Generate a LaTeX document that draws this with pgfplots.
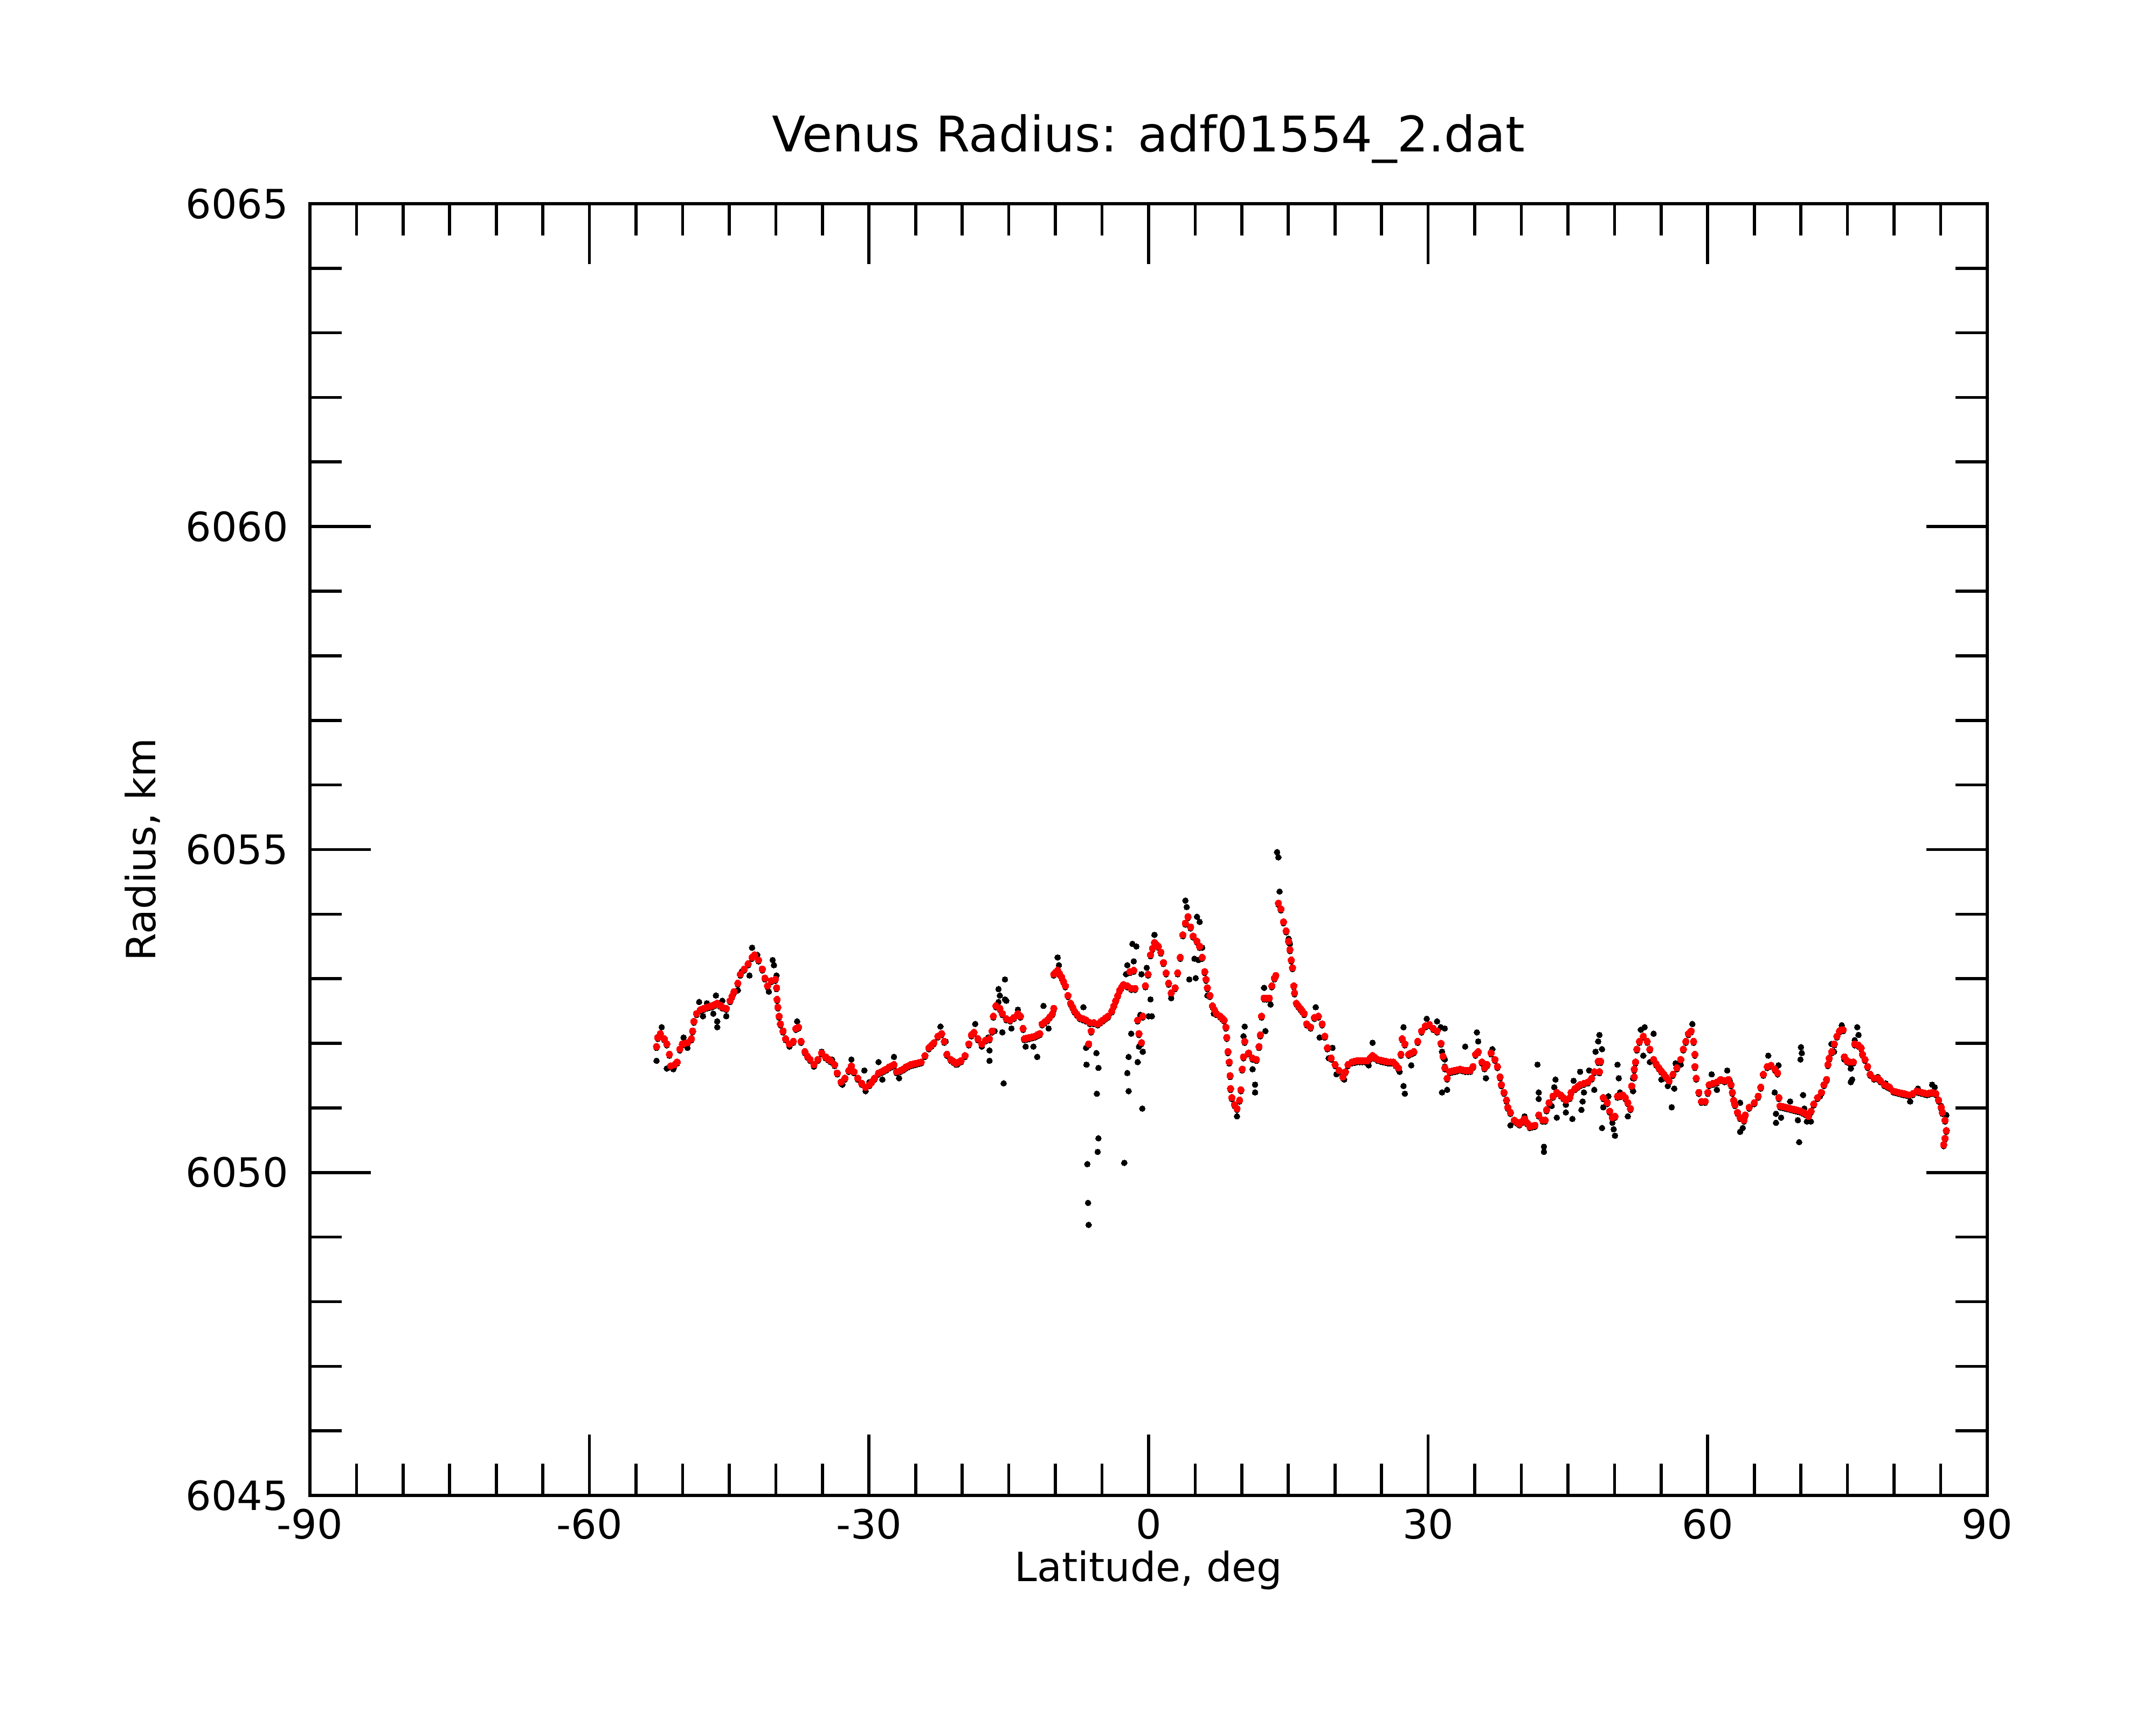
\documentclass[border=0pt]{standalone}
\usepackage{fontspec}
\setmainfont{DejaVu Sans}
\usepackage{pgfplots}
\usepackage{pgfplotstable}
\pgfplotsset{compat=1.18}

\pgfplotstableread{
lat r
-52.80 6051.95
-52.67 6052.09
-52.39 6052.15
-51.97 6052.07
-51.70 6051.99
-51.42 6051.83
-51.28 6051.65
-50.87 6051.67
-50.59 6051.71
-50.31 6051.91
-50.03 6051.99
-49.75 6052.00
-49.48 6052.01
-49.06 6052.07
-48.93 6052.19
-48.79 6052.34
-48.51 6052.46
-48.09 6052.52
-47.75 6052.54
-47.40 6052.56
-47.12 6052.57
-46.85 6052.58
-46.57 6052.60
-46.29 6052.62
-46.00 6052.59
-45.74 6052.56
-45.32 6052.54
-44.91 6052.66
-44.70 6052.73
-44.49 6052.80
-44.08 6052.93
-43.80 6053.07
-43.39 6053.15
-42.97 6053.23
-42.55 6053.33
-42.28 6053.37
-41.86 6053.29
-41.45 6053.15
-41.17 6053.01
-40.89 6052.89
-40.48 6052.97
-40.06 6052.99
-39.92 6052.86
-39.87 6052.68
-39.78 6052.56
-39.65 6052.42
-39.51 6052.30
-39.23 6052.19
-38.95 6052.07
-38.54 6051.99
-38.12 6052.03
-37.85 6052.23
-37.57 6052.25
-37.29 6052.03
-36.88 6051.87
-36.60 6051.80
-36.32 6051.75
-35.91 6051.67
-35.49 6051.75
-35.08 6051.85
-34.66 6051.79
-34.40 6051.76
-34.11 6051.73
-33.69 6051.67
-33.41 6051.54
-33.00 6051.40
-32.58 6051.46
-32.17 6051.58
-31.89 6051.65
-31.61 6051.56
-31.20 6051.46
-30.78 6051.38
-30.37 6051.32
-29.95 6051.36
-29.68 6051.41
-29.40 6051.46
-28.98 6051.54
-28.70 6051.56
-28.43 6051.58
-28.15 6051.60
-27.87 6051.63
-27.60 6051.65
-27.32 6051.67
-27.04 6051.56
-26.63 6051.58
-26.35 6051.60
-26.07 6051.63
-25.80 6051.65
-25.52 6051.67
-25.25 6051.68
-24.97 6051.69
-24.69 6051.70
-24.41 6051.71
-24.00 6051.81
-23.58 6051.93
-23.30 6051.97
-23.03 6052.01
-22.61 6052.11
-22.20 6052.15
-21.92 6052.03
-21.64 6051.83
-21.23 6051.75
-20.95 6051.72
-20.67 6051.69
-20.40 6051.71
-20.12 6051.73
-19.70 6051.81
-19.29 6051.99
-19.01 6052.13
-18.73 6052.17
-18.32 6052.07
-17.90 6051.99
-17.49 6052.05
-17.07 6052.07
-16.79 6052.19
-16.66 6052.42
-16.38 6052.58
-15.96 6052.54
-15.69 6052.46
-15.27 6052.38
-14.85 6052.36
-14.44 6052.40
-14.02 6052.46
-13.75 6052.42
-13.47 6052.23
-13.33 6052.07
-13.05 6052.08
-12.78 6052.09
-12.50 6052.10
-12.22 6052.11
-11.95 6052.13
-11.67 6052.15
-11.42 6052.30
-11.15 6052.33
-10.87 6052.36
-10.60 6052.41
-10.31 6052.46
-10.17 6052.54
-10.17 6053.07
-9.97 6053.10
-9.76 6053.13
-9.55 6053.08
-9.34 6053.03
-9.13 6052.96
-8.93 6052.89
-8.65 6052.74
-8.37 6052.62
-8.15 6052.56
-7.96 6052.50
-7.68 6052.45
-7.40 6052.40
-7.05 6052.38
-6.71 6052.36
-6.30 6052.32
-6.16 6052.19
-6.43 6051.99
-5.88 6052.32
-5.46 6052.30
-5.18 6052.33
-4.91 6052.36
-4.63 6052.39
-4.36 6052.42
-3.94 6052.50
-3.73 6052.58
-3.53 6052.66
-3.31 6052.74
-3.11 6052.82
-2.90 6052.87
-2.69 6052.91
-2.28 6052.89
-2.00 6053.11
-1.59 6053.13
-1.86 6052.85
-1.45 6052.85
-1.17 6052.36
-1.03 6052.15
-0.76 6052.01
-0.62 6052.42
-0.34 6052.89
-0.06 6053.07
0.21 6053.37
0.42 6053.47
0.63 6053.56
0.84 6053.53
1.05 6053.50
1.32 6053.41
1.60 6053.25
1.88 6053.09
2.15 6052.93
2.43 6052.78
2.85 6052.86
3.12 6053.09
3.40 6053.33
3.68 6053.68
3.95 6053.86
4.23 6053.96
4.51 6053.80
4.78 6053.66
5.20 6053.58
5.48 6053.50
5.75 6053.33
6.03 6053.11
6.17 6052.99
6.31 6052.86
6.59 6052.74
6.86 6052.58
7.07 6052.52
7.28 6052.46
7.69 6052.42
7.90 6052.39
8.11 6052.36
8.30 6052.25
8.39 6052.09
8.52 6051.87
8.66 6051.71
8.75 6051.50
8.80 6051.30
8.94 6051.16
9.22 6051.05
9.49 6050.99
9.77 6051.12
9.91 6051.28
10.05 6051.60
10.19 6051.79
10.32 6052.03
10.74 6051.85
11.16 6051.77
11.57 6051.75
11.85 6051.95
11.99 6052.13
12.13 6052.42
12.40 6052.70
12.68 6052.70
12.96 6052.70
13.23 6052.89
13.51 6053.01
13.65 6053.05
13.93 6054.17
14.20 6054.08
14.48 6053.88
14.76 6053.74
15.03 6053.58
15.17 6053.45
15.31 6053.29
15.45 6053.17
15.59 6052.89
15.67 6052.78
15.86 6052.62
16.07 6052.58
16.28 6052.54
16.49 6052.50
16.70 6052.46
16.97 6052.30
17.39 6052.25
17.80 6052.40
18.22 6052.42
18.63 6052.30
18.91 6052.11
19.19 6051.93
19.60 6051.77
20.02 6051.67
20.44 6051.58
20.85 6051.48
21.13 6051.56
21.40 6051.67
21.82 6051.71
22.10 6051.72
22.37 6051.73
22.65 6051.73
22.93 6051.73
23.20 6051.73
23.48 6051.73
23.76 6051.77
24.04 6051.81
24.31 6051.78
24.59 6051.75
24.87 6051.74
25.14 6051.73
25.42 6051.72
25.70 6051.71
25.97 6051.71
26.25 6051.71
26.53 6051.67
26.81 6051.62
27.08 6051.83
27.22 6052.07
27.50 6051.99
27.91 6051.83
28.19 6051.85
28.47 6051.87
28.88 6052.03
29.30 6052.19
29.71 6052.27
30.13 6052.29
30.55 6052.23
30.96 6052.19
31.38 6052.00
31.60 6051.80
31.80 6051.62
32.04 6051.46
32.32 6051.56
32.60 6051.57
32.87 6051.58
33.15 6051.59
33.43 6051.60
33.70 6051.59
33.98 6051.58
34.26 6051.58
34.53 6051.58
34.81 6051.64
35.09 6051.83
35.37 6051.87
35.78 6051.71
36.06 6051.62
36.33 6051.67
36.75 6051.85
37.17 6051.75
37.44 6051.64
37.72 6051.48
37.86 6051.36
38.14 6051.24
38.41 6051.12
38.55 6051.01
38.83 6050.93
39.24 6050.81
39.52 6050.78
39.80 6050.75
40.08 6050.79
40.35 6050.83
40.63 6050.77
40.91 6050.71
41.18 6050.72
41.46 6050.73
41.87 6050.89
42.29 6050.81
42.57 6050.81
42.71 6050.97
42.98 6051.08
43.40 6051.18
43.81 6051.24
44.23 6051.20
44.50 6051.16
44.78 6051.12
45.20 6051.16
45.34 6051.24
45.75 6051.30
46.03 6051.33
46.31 6051.36
46.72 6051.38
47.14 6051.40
47.55 6051.46
47.83 6051.56
48.25 6051.72
48.52 6051.72
48.38 6051.56
48.80 6051.16
49.22 6051.08
49.49 6050.95
49.77 6050.85
50.05 6050.87
50.32 6051.18
50.60 6051.19
50.88 6051.20
51.15 6051.16
51.43 6051.08
51.71 6050.99
51.85 6051.34
52.12 6051.48
52.12 6051.60
52.26 6051.71
52.40 6051.91
52.68 6052.03
53.09 6052.11
53.51 6052.03
53.79 6051.91
54.20 6051.75
54.48 6051.68
54.76 6051.62
55.03 6051.57
55.31 6051.52
55.58 6051.47
55.86 6051.42
56.28 6051.52
56.69 6051.62
57.11 6051.75
57.39 6051.91
57.66 6052.03
57.94 6052.15
58.22 6052.19
58.49 6052.03
58.63 6051.83
58.63 6051.64
58.77 6051.46
59.05 6051.24
59.33 6051.10
59.74 6051.10
60.02 6051.24
60.16 6051.36
60.57 6051.38
60.99 6051.40
61.40 6051.44
61.82 6051.42
62.23 6051.44
62.51 6051.36
62.65 6051.24
62.79 6051.12
62.93 6051.05
63.20 6050.93
63.48 6050.85
63.90 6050.81
64.03 6050.89
64.45 6051.01
65.00 6051.08
65.42 6051.18
65.70 6051.32
65.97 6051.52
66.39 6051.64
66.80 6051.66
67.22 6051.60
67.50 6051.54
67.64 6051.16
67.77 6051.03
68.05 6051.02
68.33 6051.01
68.60 6051.00
68.88 6050.99
69.16 6050.98
69.44 6050.97
69.71 6050.96
69.99 6050.95
70.27 6050.93
70.54 6050.91
70.82 6050.87
71.10 6050.95
71.38 6051.06
71.79 6051.16
72.21 6051.24
72.48 6051.36
72.76 6051.44
72.90 6051.67
73.04 6051.77
73.31 6051.87
73.59 6051.99
73.87 6052.11
74.14 6052.19
74.35 6052.21
74.53 6052.21
74.67 6051.79
74.95 6051.73
75.22 6051.71
75.64 6051.71
75.78 6051.99
76.19 6051.97
76.47 6051.93
76.61 6051.83
76.88 6051.75
77.16 6051.64
77.44 6051.52
77.85 6051.46
78.27 6051.46
78.55 6051.42
78.96 6051.36
79.24 6051.34
79.52 6051.32
79.93 6051.26
80.21 6051.25
80.49 6051.24
80.76 6051.23
81.04 6051.22
81.32 6051.21
81.59 6051.20
82.01 6051.22
82.42 6051.26
82.70 6051.25
82.98 6051.24
83.25 6051.23
83.53 6051.22
83.81 6051.23
84.09 6051.24
84.50 6051.22
84.78 6051.12
85.06 6051.01
85.19 6050.93
85.47 6050.81
85.61 6050.65
85.47 6050.53
85.33 6050.43
}\smoothed

\pgfplotstableread{
lat r
-52.80 6051.73
-52.25 6052.25
-51.70 6051.61
-51.00 6051.60
-49.90 6052.09
-49.48 6051.93
-48.23 6052.64
-47.82 6052.42
-47.40 6052.62
-46.71 6052.46
-46.43 6052.74
-46.29 6052.34
-46.29 6052.25
-45.74 6052.66
-45.32 6052.42
-44.08 6052.82
-43.66 6053.11
-42.83 6053.05
-42.55 6053.48
-42.00 6053.37
-40.75 6052.80
-40.34 6053.29
-40.20 6053.21
-39.92 6053.05
-38.54 6051.95
-37.71 6052.34
-35.91 6051.64
-35.08 6051.87
-33.97 6051.75
-32.86 6051.36
-31.89 6051.75
-30.37 6051.26
-30.50 6051.58
-29.95 6051.40
-28.98 6051.71
-28.57 6051.44
-27.32 6051.79
-26.77 6051.46
-22.33 6052.26
-21.78 6052.03
-20.53 6051.67
-18.60 6052.30
-17.90 6051.95
-17.21 6052.09
-17.07 6051.89
-17.07 6051.73
-16.52 6052.19
-16.10 6052.84
-15.96 6052.74
-16.10 6052.64
-15.69 6052.17
-15.41 6052.99
-15.41 6052.68
-15.27 6052.66
-15.55 6051.38
-14.71 6052.23
-14.02 6052.52
-13.19 6051.95
-12.36 6051.95
-11.95 6051.79
-11.81 6052.15
-11.28 6052.58
-10.73 6052.23
-9.76 6053.33
-9.62 6053.21
-6.99 6052.56
-6.71 6051.93
-6.66 6051.67
-6.57 6050.13
-6.49 6049.53
-6.43 6049.19
-5.60 6051.85
-5.55 6051.22
-5.38 6051.62
-5.38 6050.53
-5.46 6050.32
-2.61 6050.15
-2.28 6051.54
-2.14 6051.79
-2.14 6051.26
-1.86 6052.15
-1.73 6053.54
-1.31 6053.50
-1.59 6053.27
-2.28 6053.21
-2.42 6053.07
-1.17 6051.71
-1.03 6051.95
-0.89 6052.44
-0.76 6053.07
-0.67 6050.99
-0.62 6051.87
-0.20 6053.17
0.01 6052.42
0.21 6052.68
0.35 6052.42
0.21 6053.37
0.63 6053.68
2.43 6052.70
3.95 6054.21
4.09 6054.11
4.37 6052.99
5.06 6053.01
5.20 6053.96
5.48 6053.88
4.92 6053.31
5.34 6053.29
5.75 6053.48
6.31 6052.74
7.00 6052.46
7.97 6052.38
9.49 6050.87
10.32 6052.26
10.19 6052.11
11.16 6051.60
11.43 6051.36
11.43 6051.24
12.54 6052.19
12.40 6052.86
13.09 6052.60
13.79 6054.96
13.93 6054.88
14.06 6054.35
15.03 6053.62
15.17 6053.54
17.94 6052.56
18.36 6052.09
19.74 6051.93
19.33 6051.77
20.99 6051.44
20.16 6051.52
24.04 6052.01
23.62 6051.66
26.94 6051.56
27.36 6052.25
27.36 6051.34
27.50 6051.22
28.19 6051.66
29.85 6052.38
30.96 6052.34
31.79 6052.23
31.79 6051.75
31.79 6051.64
31.35 6052.25
31.49 6051.87
31.49 6051.24
32.04 6051.28
33.98 6051.95
35.23 6052.17
35.37 6052.03
36.20 6051.46
36.89 6051.91
38.83 6050.73
40.35 6050.87
41.74 6051.67
41.87 6051.24
41.87 6051.14
42.43 6050.40
42.43 6050.32
43.26 6051.03
43.54 6051.32
43.81 6050.85
43.67 6051.44
44.78 6051.05
44.78 6050.93
45.48 6050.83
45.61 6051.42
46.31 6051.56
46.45 6050.97
46.58 6051.10
46.72 6051.24
47.28 6051.58
47.83 6051.28
47.97 6051.87
48.25 6052.03
48.38 6052.13
48.66 6051.91
48.66 6050.69
48.80 6051.01
49.35 6051.18
49.77 6050.77
49.91 6050.67
50.05 6050.57
50.32 6051.67
50.46 6051.46
50.60 6051.24
51.43 6050.87
51.99 6051.26
51.99 6051.46
52.82 6052.21
53.23 6052.25
53.09 6051.81
54.20 6052.15
53.79 6051.71
55.03 6051.44
55.72 6051.34
56.14 6051.01
56.42 6051.30
56.56 6051.69
57.11 6051.67
58.36 6052.30
60.43 6051.52
60.99 6051.28
62.10 6051.58
62.37 6051.42
63.48 6051.08
63.48 6050.63
63.76 6050.69
66.50 6051.81
67.60 6051.66
67.19 6051.24
67.33 6050.91
67.33 6050.77
67.88 6050.85
68.85 6051.10
69.68 6050.81
69.82 6050.47
69.96 6051.75
70.10 6051.85
70.01 6051.94
70.24 6051.20
70.37 6050.99
70.65 6050.79
71.07 6050.79
72.04 6051.18
73.28 6051.99
73.56 6051.87
74.39 6052.28
74.67 6051.75
75.36 6051.61
75.36 6051.40
75.50 6051.44
75.78 6052.05
76.05 6052.25
76.19 6052.13
78.27 6051.48
79.10 6051.38
81.73 6051.10
82.56 6051.30
84.09 6051.36
84.36 6051.32
85.06 6051.03
85.61 6050.89
85.61 6050.65
}\raw

\begin{document}
\begin{tikzpicture}
\path[use as bounding box] (-112.3pt,-83pt) rectangle (668.95pt,542pt);
\begin{axis}[
  scale only axis,
  width=607.8pt, height=468.2pt,
  xmin=-90, xmax=90, ymin=6045, ymax=6065,
  xtick={-90,-60,-30,0,30,60,90},
  xticklabels={-90,-60,-30,0,30,60,90},
  ytick={6045,6050,6055,6060,6065},
  yticklabels={6045,6050,6055,6060,6065},
  minor x tick num=5, minor y tick num=4,
  tick align=inside,
  major tick length=22pt, minor tick length=11.5pt,
  tick style={black, line width=1.1pt},
  axis line style={line width=1.1pt},
  xtick pos=both, ytick pos=both,
  font=\fontsize{14.6}{17.5}\selectfont,
  ticklabel style={font=\fontsize{14.6}{17.5}\selectfont},
  xticklabel style={anchor=base, yshift=-15.8pt},
  yticklabel style={anchor=east, xshift=-7.6pt, inner sep=0pt},
  every axis title shift=0pt,
  title={Venus Radius: adf01554\_2.dat},
  title style={at={(axis description cs:0.5,1.0400)}, anchor=base, inner sep=0pt,
    font=\fontsize{17.8}{21}\selectfont},
  xlabel={Latitude, deg},
  xlabel style={at={(axis description cs:0.5,-0.0666)}, anchor=base, inner sep=0pt},
  ylabel={Radius, km},
  ylabel style={at={(axis description cs:-0.0921,0.5)}, anchor=base, inner sep=0pt},
  clip=true,
]
\addplot[black, only marks, mark=*, mark size=1.05pt,
  mark options={draw=black, fill=black, line width=0pt}] table[x=lat, y=r] {\raw};
\addplot[black, only marks, mark=*, mark size=1.0pt,
  mark options={draw=black, fill=black, line width=0pt, yshift=-0.55pt}] table[x=lat, y=r] {\smoothed};
\addplot[red, only marks, mark=*, mark size=1.2pt,
  mark options={draw=red, fill=red, line width=0pt}] table[x=lat, y=r] {\smoothed};
\end{axis}
\end{tikzpicture}
\end{document}
